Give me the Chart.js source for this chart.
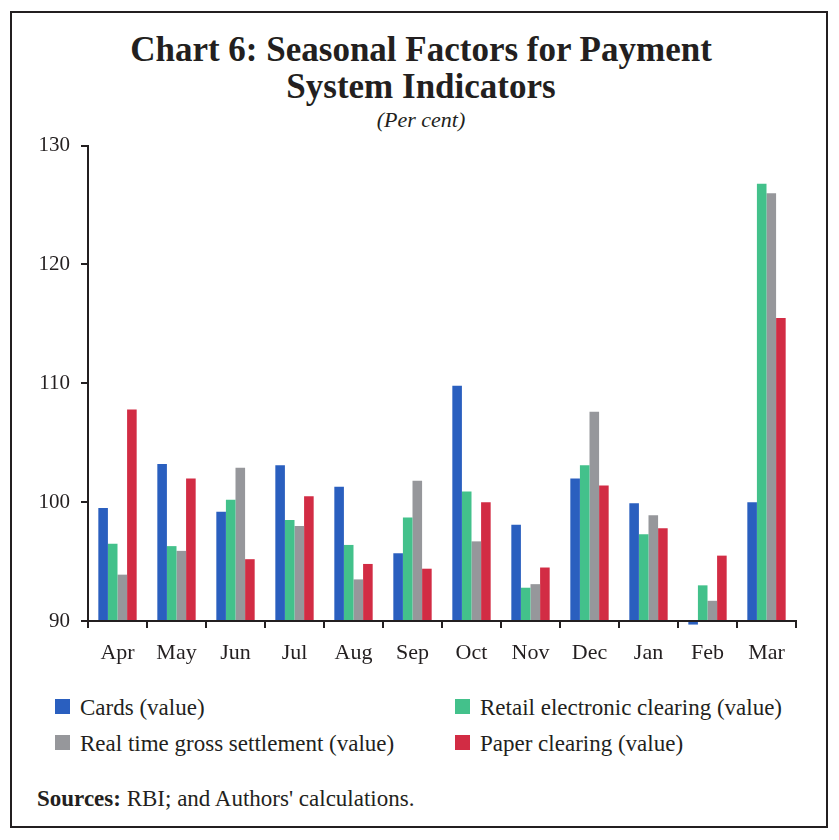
<!DOCTYPE html>
<html>
<head>
<meta charset="utf-8">
<title>Chart 6: Seasonal Factors for Payment System Indicators</title>
<script src="https://cdn.jsdelivr.net/npm/chart.js@4"></script>
<style>
    body {
        margin: 0;
        width: 839px;
        height: 840px;
        background: #ffffff;
        font-family: "Liberation Serif", serif;
        color: #231f20;
        position: relative;
        overflow: hidden;
    }
    #frame {
        position: absolute;
        left: 10px;
        top: 11px;
        width: 818px;
        height: 817px;
        box-sizing: border-box;
        border: 2px solid #231f20;
    }
    #title {
        position: absolute;
        left: 0;
        top: 31px;
        width: 842px;
        text-align: center;
        font-weight: bold;
        font-size: 35px;
        line-height: 37px;
    }
    #subtitle {
        position: absolute;
        left: 0;
        top: 109px;
        width: 842px;
        text-align: center;
        font-style: italic;
        font-size: 22px;
        line-height: 22px;
    }
    #chartBox {
        position: absolute;
        left: 0;
        top: 122px;
        width: 839px;
        height: 558px;
    }
    .legend-item {
        position: absolute;
        font-size: 23px;
        line-height: 23px;
        white-space: nowrap;
    }
    .legend-box {
        position: absolute;
        width: 15px;
        height: 15px;
    }
    #sources {
        position: absolute;
        left: 37px;
        top: 787px;
        font-size: 23px;
        line-height: 23px;
    }
</style>
</head>
<body>
<div id="frame"></div>
<div id="title">Chart 6: Seasonal Factors for Payment<br>System Indicators</div>
<div id="subtitle">(Per cent)</div>
<div id="chartBox"><canvas id="myChart" width="839" height="558"></canvas></div>
<div id="legend"></div>
<div id="sources"><b>Sources:</b> RBI; and Authors' calculations.</div>

<script>
//Months on the x axis
const months = ['Apr', 'May', 'Jun', 'Jul', 'Aug', 'Sep', 'Oct', 'Nov', 'Dec', 'Jan', 'Feb', 'Mar'];

//Seasonal factors
const cards = [99.5, 103.2, 99.2, 103.1, 101.3, 95.7, 109.8, 98.1, 102.0, 99.9, 89.7, 100.0];
const retailElectronic = [96.5, 96.3, 100.2, 98.5, 96.4, 98.7, 100.9, 92.8, 103.1, 97.3, 93.0, 126.8];
const rtgs = [93.9, 95.9, 102.9, 98.0, 93.5, 101.8, 96.7, 93.1, 107.6, 98.9, 91.7, 126.0];
const paperClearing = [107.8, 102.0, 95.2, 100.5, 94.8, 94.4, 100.0, 94.5, 101.4, 97.8, 95.5, 115.5];

//Y axis tick values
const yTicks = [90, 100, 110, 120, 130];
const yBase = 90;

const seriesNames = ['Cards (value)', 'Retail electronic clearing (value)', 'Real time gross settlement (value)', 'Paper clearing (value)'];
const seriesColors = ['#2a5fbf', '#43c18b', '#96979b', '#d22c44'];
const seriesData = [cards, retailElectronic, rtgs, paperClearing];

const axisColor = '#231f20';
const fontName = '"Liberation Serif", serif';

//Bars grow from 90 and aren't clipped, so the Feb cards bar dips under the axis like in the original
let datasets = seriesData.map(function(values, i) {
    return {
        label: seriesNames[i],
        data: values,
        base: yBase,
        backgroundColor: seriesColors[i],
        borderWidth: 0,
        categoryPercentage: 0.65,
        barPercentage: 1.0,
        clip: false
    };
});

const ctx = document.getElementById('myChart').getContext('2d');

const myChart = new Chart(ctx, {
    type: 'bar',
    data: {
        labels: months,
        datasets: datasets
    },
    options: {
        responsive: false,
        animation: false,
        layout: {
            padding: { top: 7, right: 43, bottom: 0, left: 0 }
        },
        plugins: {
            legend: { display: false },
            tooltip: { enabled: false }
        },
        scales: {
            x: {
                grid: {
                    offset: true,
                    drawOnChartArea: false,
                    drawTicks: true,
                    tickLength: 7,
                    color: axisColor,
                    lineWidth: 2
                },
                border: { display: true, color: axisColor, width: 2 },
                ticks: {
                    color: axisColor,
                    padding: 12,
                    maxRotation: 0,
                    font: { family: fontName, size: 22 }
                },
                afterFit: function(scale) {
                    scale.height = 59;
                }
            },
            y: {
                min: yBase,
                max: 130,
                afterBuildTicks: function(scale) {
                    scale.ticks = yTicks.map(function(v) { return { value: v }; });
                },
                grid: {
                    drawOnChartArea: false,
                    drawTicks: true,
                    tickLength: 7,
                    color: axisColor,
                    lineWidth: 2
                },
                border: { display: true, color: axisColor, width: 2 },
                ticks: {
                    color: axisColor,
                    padding: 11,
                    font: { family: fontName, size: 21 }
                },
                afterFit: function(scale) {
                    scale.width = 88;
                }
            }
        }
    }
});

//Builds the two column legend under the chart
const legendSpots = [
    { left: 55, top: 699 },
    { left: 455, top: 699 },
    { left: 55, top: 735 },
    { left: 455, top: 735 }
];
const legend = document.getElementById('legend');

myChart.data.datasets.map(function(ds, n) {
    const spot = legendSpots[n];

    const box = document.createElement('div');
    box.className = 'legend-box';
    box.style.left = spot.left + 'px';
    box.style.top = spot.top + 'px';
    box.style.background = ds.backgroundColor;
    legend.appendChild(box);

    const text = document.createElement('div');
    text.className = 'legend-item';
    text.style.left = (spot.left + 25) + 'px';
    text.style.top = (spot.top - 3) + 'px';
    text.textContent = ds.label;
    legend.appendChild(text);
});
</script>
</body>
</html>
